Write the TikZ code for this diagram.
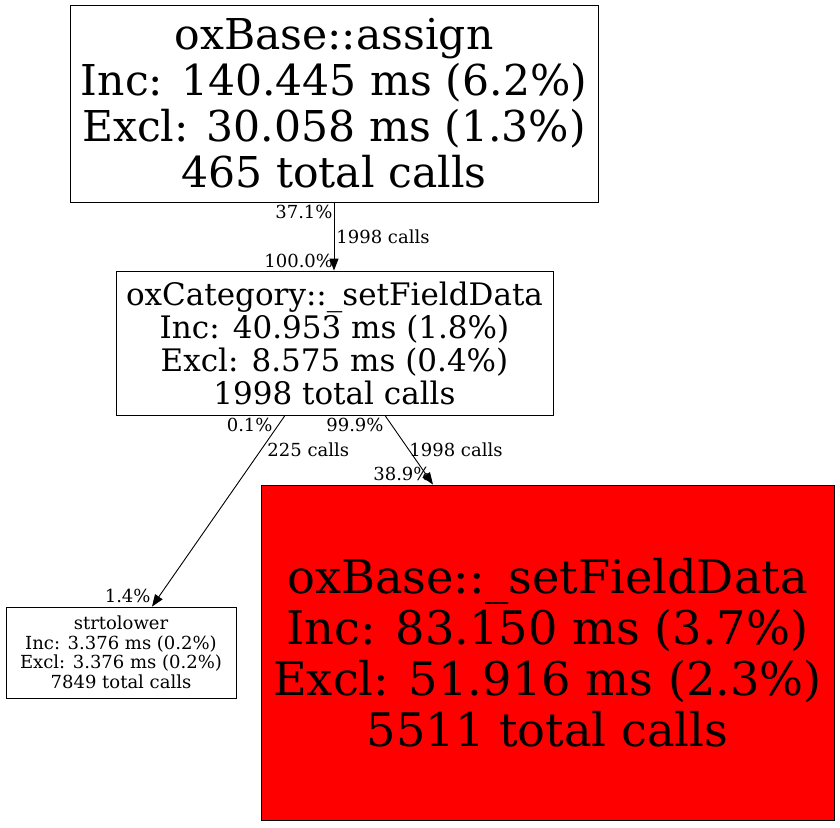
\documentclass[tikz,border=0pt]{standalone}
\usepackage{fontspec}
\setmainfont{DejaVu Serif}
\usetikzlibrary{arrows.meta,calc}
\definecolor{hot}{HTML}{FF0000}

\begin{document}
\begin{tikzpicture}[x=1pt,y=-1pt,line width=0.9pt,>={Triangle[length=12pt,width=9pt]},
  fn/.style={draw,align=center,inner sep=0pt},
  pct/.style={font=\fontsize{18}{19}\selectfont,inner sep=0pt}]
  \useasboundingbox (0,0) rectangle (840,827);
  % function boxes
  \node[fn,minimum width=528,minimum height=197,font=\fontsize{42.5}{46}\selectfont] (assign) at (334,103.5)
    {oxBase::assign\\Inc: 140.445 ms (6.2\%)\\Excl: 30.058 ms (1.3\%)\\465 total calls};
  \node[fn,minimum width=437,minimum height=144,font=\fontsize{31}{33}\selectfont] (sfd) at (334.5,343)
    {oxCategory::\_setFieldData\\Inc: 40.953 ms (1.8\%)\\Excl: 8.575 ms (0.4\%)\\1998 total calls};
  \node[fn,minimum width=230,minimum height=91,font=\fontsize{18}{19.5}\selectfont] (lower) at (121,652.5)
    {strtolower\\Inc: 3.376 ms (0.2\%)\\Excl: 3.376 ms (0.2\%)\\7849 total calls};
  \node[fn,fill=hot,minimum width=573,minimum height=335,font=\fontsize{46.3}{51}\selectfont] (base) at (547.5,652.5)
    {oxBase::\_setFieldData\\Inc: 83.150 ms (3.7\%)\\Excl: 51.916 ms (2.3\%)\\5511 total calls};
  % calls
  \draw[->] (assign.south) -- (assign.south |- sfd.north);
  \node[pct,anchor=east] (a1) at ($(assign.south)+(-1,9)$) {37.1\%};
  \node[pct,anchor=west] (a2) at ($(assign.south)+(2,34)$) {1998 calls};
  \node[pct,anchor=east] (a3) at ($(sfd.north)+(-1,-10)$) {100.0\%};
  \draw[->] ($(sfd.south)+(-49.5,0)$) -- ($(lower.north)+(31,0)$);
  \node[pct,anchor=east] (b1) at ($(sfd.south)+(-61.5,9)$) {0.1\%};
  \node[pct,anchor=west] (b2) at ($(sfd.south)+(-67.5,34)$) {225 calls};
  \node[pct,anchor=east] (b3) at ($(lower.north)+(30,-11)$) {1.4\%};
  \draw[->] ($(sfd.south)+(50.5,0)$) -- ($(base.north)+(-114.5,0)$);
  \node[pct,anchor=east] (c1) at ($(sfd.south)+(49.5,9)$) {99.9\%};
  \node[pct,anchor=west] (c2) at ($(sfd.south)+(74.5,34)$) {1998 calls};
  \node[pct,anchor=east] (c3) at ($(base.north)+(-116.5,-11)$) {38.9\%};
\end{tikzpicture}
\end{document}
